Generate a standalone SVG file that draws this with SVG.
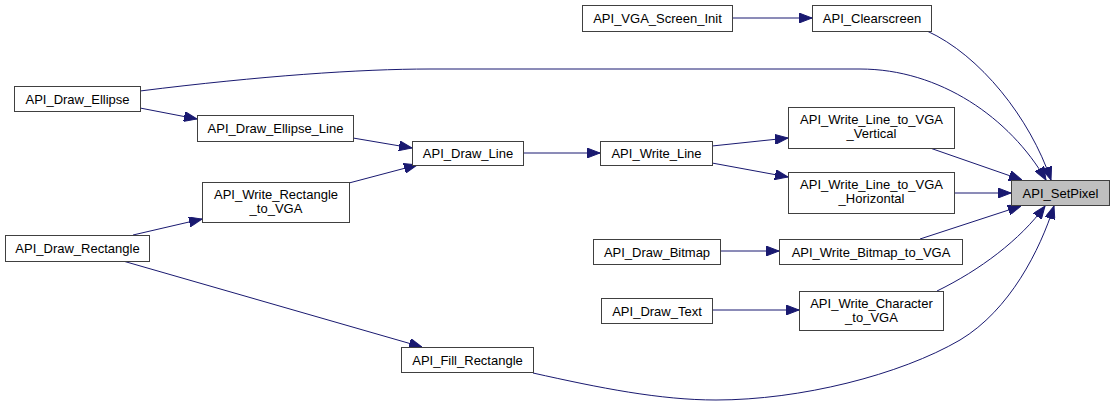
<svg xmlns="http://www.w3.org/2000/svg" width="1115" height="402" viewBox="0 0 1115 402">
<style>
.node rect{fill:#ffffff;stroke:#404040;stroke-width:1}
.node.hl rect{fill:#bfbfbf}
.node text{font-family:"Liberation Sans",Arial,sans-serif;font-size:13px;fill:#000;text-anchor:middle}
#edges path{fill:none;stroke:#191970;stroke-width:1;marker-end:url(#arr)}
</style>
<defs>
<marker id="arr" viewBox="0 0 13 10" refX="13" refY="5" markerWidth="13" markerHeight="10" markerUnits="userSpaceOnUse" orient="auto">
<path d="M0,0 L13,5 L0,10 z" fill="#191970" stroke="#191970" stroke-width="1"/>
</marker>
</defs>
<rect width="1115" height="402" fill="#ffffff"/>
<g id="edges">
<path d="M732,18 L812,18"/>
<path d="M927,31 C980,55 1030,118 1051,180"/>
<path d="M140,91 C260,76 360,69 430,69 L860,69 C940,69 1010,118 1046,180"/>
<path d="M140,108 L197,119"/>
<path d="M353,138 L412,148"/>
<path d="M349,183 L417,165"/>
<path d="M133,235 L202,219"/>
<path d="M123,261 L422,347"/>
<path d="M523,153 L600,153"/>
<path d="M712,146 L788,138"/>
<path d="M712,163 L788,177"/>
<path d="M930,148 L1022,180"/>
<path d="M954,193 L1011,193"/>
<path d="M720,251 L779,251"/>
<path d="M712,310 L799,310"/>
<path d="M920,239 L1021,206"/>
<path d="M937,291 C980,270 1020,240 1045,206"/>
<path d="M533,373 C600,388 660,400 716,400 C800,400 900,375 960,340 C1010,310 1040,250 1054,206"/>
</g>
<g id="n_init" class="node"><rect x="582.5" y="5.5" width="150" height="26"/><text x="657.5" y="22.5">API_VGA_Screen_Init</text></g>
<g id="n_clear" class="node"><rect x="812.5" y="5.5" width="119" height="26"/><text x="872" y="22.5">API_Clearscreen</text></g>
<g id="n_ellipse" class="node"><rect x="14.5" y="86.5" width="126" height="25"/><text x="77.5" y="103.5">API_Draw_Ellipse</text></g>
<g id="n_ellipse_line" class="node"><rect x="197.5" y="115.5" width="156" height="26"/><text x="275.5" y="133">API_Draw_Ellipse_Line</text></g>
<g id="n_draw_line" class="node"><rect x="412.5" y="141.5" width="111" height="24"/><text x="468" y="158">API_Draw_Line</text></g>
<g id="n_write_line" class="node"><rect x="600.5" y="141.5" width="112" height="24"/><text x="656.5" y="158">API_Write_Line</text></g>
<g id="n_vert" class="node"><rect x="788.5" y="107.5" width="166" height="41"/><text x="871.5" y="124">API_Write_Line_to_VGA</text><text x="871.5" y="138">_Vertical</text></g>
<g id="n_horiz" class="node"><rect x="788.5" y="172.5" width="166" height="41"/><text x="871.5" y="189">API_Write_Line_to_VGA</text><text x="871.5" y="203">_Horizontal</text></g>
<g id="n_setpixel" class="node hl"><rect x="1011.5" y="180.5" width="98" height="25"/><text x="1060.5" y="197.5">API_SetPixel</text></g>
<g id="n_write_rect" class="node"><rect x="202.5" y="182.5" width="147" height="40"/><text x="276" y="199">API_Write_Rectangle</text><text x="276" y="213">_to_VGA</text></g>
<g id="n_draw_rect" class="node"><rect x="5.5" y="235.5" width="144" height="26"/><text x="77.5" y="253">API_Draw_Rectangle</text></g>
<g id="n_draw_bitmap" class="node"><rect x="593.5" y="239.5" width="127" height="25"/><text x="657" y="256.5">API_Draw_Bitmap</text></g>
<g id="n_write_bitmap" class="node"><rect x="779.5" y="239.5" width="183" height="25"/><text x="871" y="256.5">API_Write_Bitmap_to_VGA</text></g>
<g id="n_draw_text" class="node"><rect x="601.5" y="298.5" width="111" height="25"/><text x="657" y="315.5">API_Draw_Text</text></g>
<g id="n_write_char" class="node"><rect x="799.5" y="291.5" width="144" height="39"/><text x="871.5" y="307.5">API_Write_Character</text><text x="871.5" y="321.5">_to_VGA</text></g>
<g id="n_fill_rect" class="node"><rect x="401.5" y="347.5" width="132" height="25"/><text x="467.5" y="364.5">API_Fill_Rectangle</text></g>
</svg>
